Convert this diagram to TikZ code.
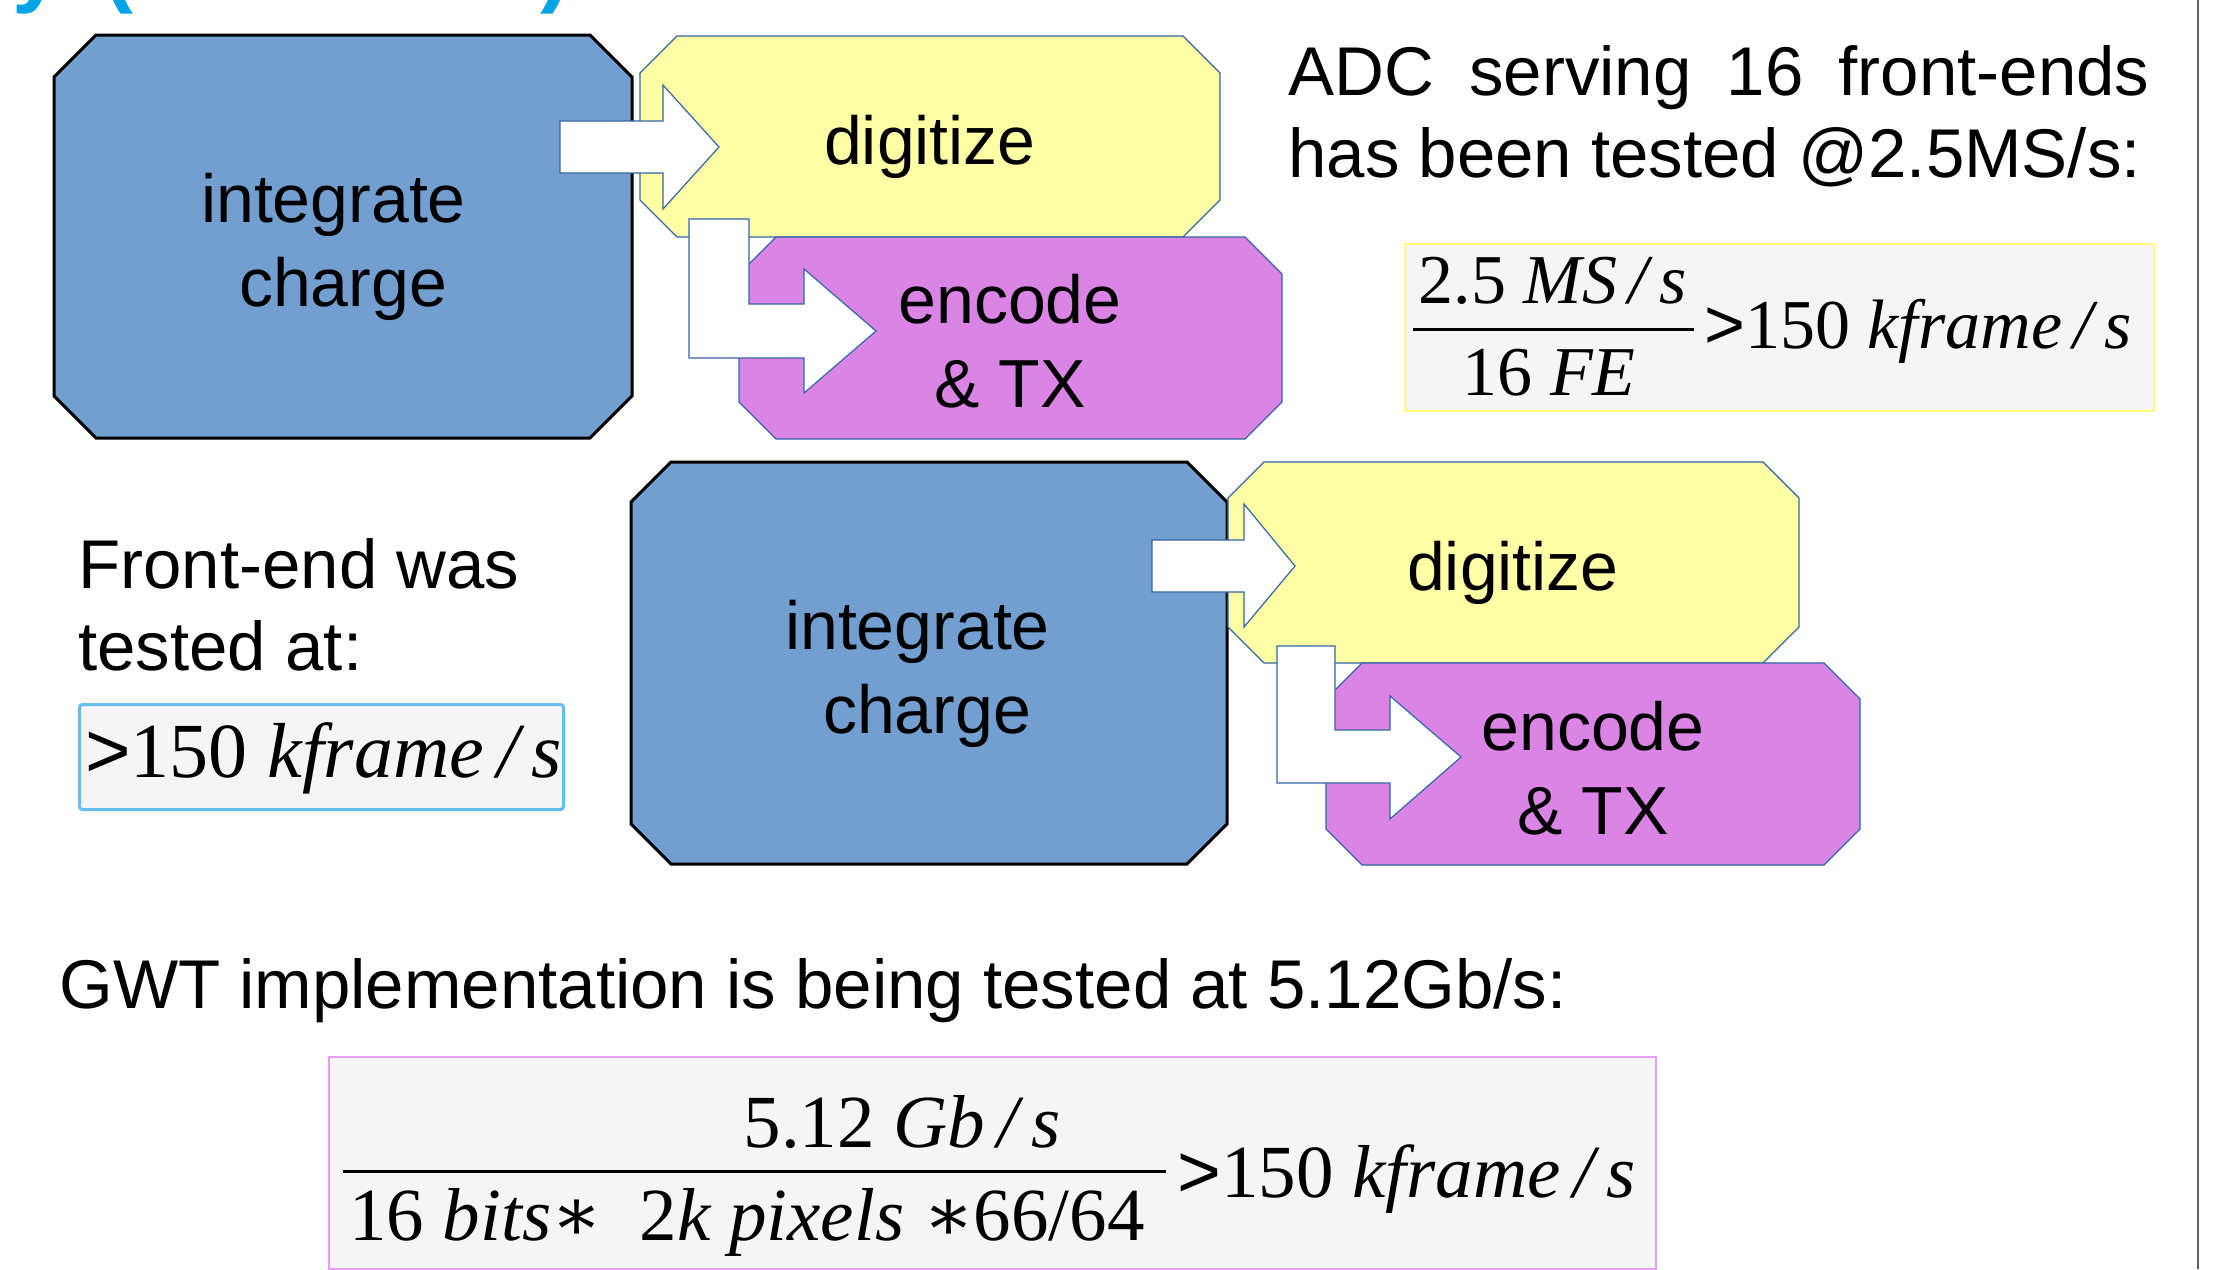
\documentclass[tikz,border=0pt]{standalone}
\usepackage{fontspec}
\usepackage{graphicx}
\setmainfont{Liberation Sans}
\newfontfamily\eqfont{Liberation Serif}
\newfontfamily\opfont{DejaVu Serif}

\definecolor{chargeblue}{RGB}{114,159,207}
\definecolor{digyellow}{RGB}{255,255,166}
\definecolor{encpink}{RGB}{218,132,230}
\definecolor{edgeblue}{RGB}{52,101,164}
\definecolor{eqgray}{RGB}{245,245,245}
\definecolor{eqyellow}{RGB}{255,255,120}
\definecolor{eqcyan}{RGB}{102,190,240}
\definecolor{eqpink}{RGB}{230,160,240}
\definecolor{titleblue}{RGB}{0,163,228}
\definecolor{railgray}{RGB}{96,96,96}

% box with all four corners cut off: style, x1, y1, x2, y2, cut
\newcommand\cutbox[6]{%
  \path[#1] ({#2+#6},#3) -- ({#4-#6},#3) -- (#4,{#3+#6}) -- (#4,{#5-#6})
    -- ({#4-#6},#5) -- ({#2+#6},#5) -- (#2,{#5-#6}) -- (#2,{#3+#6}) -- cycle;}

\tikzset{
  chargebox/.style={fill=chargeblue, draw=black, line width=1.5pt, line join=miter},
  digbox/.style={fill=digyellow, draw=edgeblue, line width=0.6pt},
  encbox/.style={fill=encpink, draw=edgeblue, line width=0.6pt},
  blockarrow/.style={fill=white, draw=edgeblue, line width=0.6pt, line join=miter},
  boxlabel/.style={inner sep=0pt, anchor=base, font=\fontsize{34}{42}\selectfont},
  note/.style={inner sep=0pt, anchor=base west, font=\fontsize{34.5}{41}\selectfont},
  eqframe/.style={fill=eqgray, inner sep=0pt, anchor=north west},
  eqtext/.style={inner sep=0pt, anchor=base},
  fracbar/.style={line width=1.5pt},
}

\begin{document}
\begin{tikzpicture}[x=0.5pt, y=-0.5pt]
\useasboundingbox (0,0) rectangle (2214,1269);
\fill[white] (0,0) rectangle (2214,1269);

% heading line, only its lowest part falls on the page
\node[anchor=base west, inner sep=0pt, text=titleblue,
      font=\bfseries\fontsize{45}{50}\selectfont] (ttl) at (12,-4)
      {y\hspace{20.5pt}(\hspace{203.5pt})};

% right-hand rail
\draw[railgray, line width=1pt] (2198,0) -- (2198,1269);

% ---------- first chain ----------
\cutbox{chargebox}{54}{35}{632}{438}{42}
\cutbox{digbox}{640}{36}{1220}{237}{37}
\cutbox{encbox}{739}{237}{1282}{439}{37}

\path[blockarrow] (560,121) -- (663,121) -- (663,85) -- (719,147)
  -- (663,209) -- (663,173) -- (560,173) -- cycle;
\path[blockarrow] (689,219) -- (749,219) -- (749,304) -- (804,304) -- (804,269)
  -- (876,331) -- (804,393) -- (804,358) -- (689,358) -- cycle;

\node[boxlabel] (int1) at (343,222)
  {\begin{tabular}[t]{@{}c@{}}integrate\kern0.28em\\charge\end{tabular}};
\node[boxlabel] (dig1) at (930,164) {digitize};
\node[boxlabel] (enc1) at (1010,323)
  {\begin{tabular}[t]{@{}c@{}}encode\\\& TX\end{tabular}};

% ---------- second chain ----------
\cutbox{chargebox}{631}{462}{1227}{864}{40}
\cutbox{digbox}{1228}{462}{1799}{663}{36}
\cutbox{encbox}{1326}{663}{1860}{865}{36}

\path[blockarrow] (1152,540) -- (1244,540) -- (1244,504) -- (1295,566)
  -- (1244,627) -- (1244,592) -- (1152,592) -- cycle;
\path[blockarrow] (1277,646) -- (1335,646) -- (1335,730) -- (1390,730) -- (1390,696)
  -- (1461,757) -- (1390,819) -- (1390,783) -- (1277,783) -- cycle;

\node[boxlabel] (int2) at (927,649)
  {\begin{tabular}[t]{@{}c@{}}integrate\kern0.28em\\charge\end{tabular}};
\node[boxlabel] (dig2) at (1513,590) {digitize};
\node[boxlabel] (enc2) at (1593,750)
  {\begin{tabular}[t]{@{}c@{}}encode\\\& TX\end{tabular}};

% ---------- notes ----------
\node[note] (adc) at (1288,95)
  {\begin{tabular}[t]{@{}l@{}}\makebox[430.5pt][s]{ADC serving 16 front-ends}\\
   has been tested @2.5MS/s:\end{tabular}};
\node[note] (fe) at (78,588)
  {\begin{tabular}[t]{@{}l@{}}Front-end was\\tested at:\end{tabular}};
\node[note] (gwt) at (59,1008) {GWT implementation is being tested at 5.12Gb/s:};

% ---------- ADC rate ----------
\node[eqframe, draw=eqyellow, line width=1pt, minimum width=374.5pt, minimum height=83.5pt]
  (adcbox) at (1404,243) {};
\begin{scope}[every node/.style={eqtext, font=\eqfont\fontsize{35}{40}\selectfont}]
  \node (adcnum) at (1553,303) {2.5 \textit{MS\,/\,s}};
  \node (adcden) at (1549,395) {16 \textit{FE}};
  \node[anchor=base west] (adcrate) at (1704,348) {{\rmfamily >}150 \textit{kframe\,/\,s}};
\end{scope}
\draw[fracbar] (1413,329) -- (1694,329);

% ---------- front-end rate ----------
\node[eqframe, draw=eqcyan, line width=1.5pt, rounded corners=1.5pt,
      minimum width=242pt, minimum height=52.5pt] (febox) at (78,703) {};
\node[eqtext, anchor=base west, font=\eqfont\fontsize{39}{44}\selectfont] (ferate)
  at (85,777) {{\rmfamily >}150 \textit{kframe\,/\,s}};

% ---------- link rate ----------
\node[eqframe, draw=eqpink, line width=0.8pt, minimum width=663.5pt, minimum height=106pt]
  (gwtbox) at (328,1056) {};
\begin{scope}[every node/.style={eqtext, font=\eqfont\fontsize{37.5}{42}\selectfont}]
  \node (gwtnum) at (902,1147) {5.12 \textit{Gb\,/\,s}};
  \node (gwtden) at (747,1240)
    {16 \textit{bits}{\opfont ∗}\ \ 2\textit{k pixels} {\opfont ∗}66/64};
  \node[anchor=base west] (gwtrate) at (1177,1197) {{\rmfamily >}150 \textit{kframe\,/\,s}};
\end{scope}
\draw[fracbar] (343,1171) -- (1166,1171);
\end{tikzpicture}
\end{document}
